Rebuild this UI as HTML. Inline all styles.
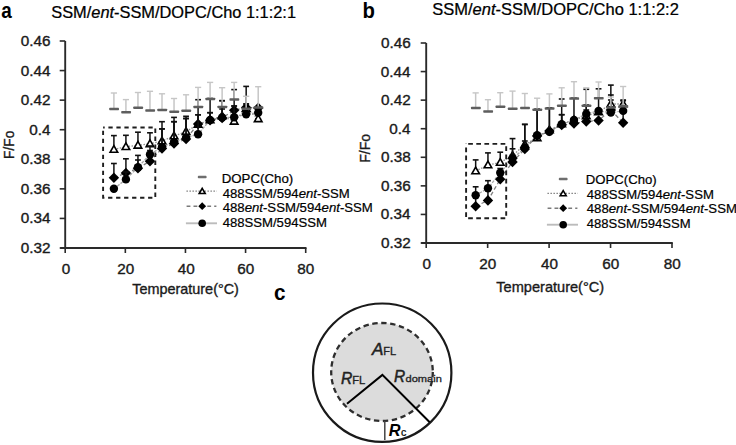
<!DOCTYPE html>
<html><head><meta charset="utf-8"><style>
html,body{margin:0;padding:0;background:#fff;}
body{width:736px;height:445px;overflow:hidden;}
svg{display:block;}
text{font-family:"Liberation Sans", sans-serif;}
</style></head><body>
<svg width="736" height="445" viewBox="0 0 736 445">
<line x1="65.2" y1="41" x2="65.2" y2="248" stroke="#2a2a2a" stroke-width="1.9"/>
<line x1="60.2" y1="248" x2="306.5" y2="248" stroke="#2a2a2a" stroke-width="1.9"/>
<line x1="59.7" y1="248.00" x2="65.2" y2="248.00" stroke="#2a2a2a" stroke-width="1.6"/>
<line x1="59.7" y1="218.43" x2="65.2" y2="218.43" stroke="#2a2a2a" stroke-width="1.6"/>
<line x1="59.7" y1="188.86" x2="65.2" y2="188.86" stroke="#2a2a2a" stroke-width="1.6"/>
<line x1="59.7" y1="159.29" x2="65.2" y2="159.29" stroke="#2a2a2a" stroke-width="1.6"/>
<line x1="59.7" y1="129.71" x2="65.2" y2="129.71" stroke="#2a2a2a" stroke-width="1.6"/>
<line x1="59.7" y1="100.14" x2="65.2" y2="100.14" stroke="#2a2a2a" stroke-width="1.6"/>
<line x1="59.7" y1="70.57" x2="65.2" y2="70.57" stroke="#2a2a2a" stroke-width="1.6"/>
<line x1="59.7" y1="41.00" x2="65.2" y2="41.00" stroke="#2a2a2a" stroke-width="1.6"/>
<line x1="65.20" y1="248" x2="65.20" y2="253" stroke="#2a2a2a" stroke-width="1.6"/>
<line x1="125.33" y1="248" x2="125.33" y2="253" stroke="#2a2a2a" stroke-width="1.6"/>
<line x1="185.45" y1="248" x2="185.45" y2="253" stroke="#2a2a2a" stroke-width="1.6"/>
<line x1="245.57" y1="248" x2="245.57" y2="253" stroke="#2a2a2a" stroke-width="1.6"/>
<line x1="305.70" y1="248" x2="305.70" y2="253" stroke="#2a2a2a" stroke-width="1.6"/>
<polyline points="113.90,188.80 125.92,179.40 137.95,167.20 149.97,154.50 162.00,147.00 174.03,142.00 186.05,137.80 198.08,134.20 210.10,120.00 222.13,117.50 234.15,117.30 246.17,114.20 258.20,112.70" fill="none" stroke="#a8a8a8" stroke-width="1.3" stroke-dasharray="3,1.2"/>
<polyline points="113.90,177.70 125.92,173.00 137.95,168.30 149.97,161.20 162.00,148.50 174.03,143.50 186.05,139.00 198.08,124.00 210.10,120.30 222.13,118.00 234.15,110.20 246.17,107.50 258.20,107.90" fill="none" stroke="#808080" stroke-width="1.3" stroke-dasharray="4,2.5"/>
<polyline points="113.90,149.50 125.92,146.70 137.95,145.30 149.97,143.80 162.00,141.00 174.03,136.00 186.05,131.60 198.08,124.50 210.10,120.00 222.13,116.00 234.15,121.30 246.17,108.50 258.20,118.80" fill="none" stroke="#909090" stroke-width="1.3" stroke-dasharray="1.5,1.5"/>
<line x1="113.90" y1="149.50" x2="113.90" y2="135.60" stroke="#111" stroke-width="1.5"/>
<line x1="111.00" y1="135.60" x2="116.80" y2="135.60" stroke="#111" stroke-width="1.6"/>
<line x1="125.92" y1="146.70" x2="125.92" y2="135.30" stroke="#111" stroke-width="1.5"/>
<line x1="123.02" y1="135.30" x2="128.82" y2="135.30" stroke="#111" stroke-width="1.6"/>
<line x1="137.95" y1="145.30" x2="137.95" y2="132.20" stroke="#111" stroke-width="1.5"/>
<line x1="135.05" y1="132.20" x2="140.85" y2="132.20" stroke="#111" stroke-width="1.6"/>
<line x1="149.97" y1="143.80" x2="149.97" y2="132.80" stroke="#111" stroke-width="1.5"/>
<line x1="147.07" y1="132.80" x2="152.88" y2="132.80" stroke="#111" stroke-width="1.6"/>
<line x1="162.00" y1="141.00" x2="162.00" y2="128.90" stroke="#111" stroke-width="1.5"/>
<line x1="159.10" y1="128.90" x2="164.90" y2="128.90" stroke="#111" stroke-width="1.6"/>
<line x1="174.03" y1="136.00" x2="174.03" y2="121.70" stroke="#111" stroke-width="1.5"/>
<line x1="171.12" y1="121.70" x2="176.93" y2="121.70" stroke="#111" stroke-width="1.6"/>
<line x1="186.05" y1="131.60" x2="186.05" y2="118.50" stroke="#111" stroke-width="1.5"/>
<line x1="183.15" y1="118.50" x2="188.95" y2="118.50" stroke="#111" stroke-width="1.6"/>
<line x1="198.08" y1="124.50" x2="198.08" y2="114.80" stroke="#111" stroke-width="1.5"/>
<line x1="195.18" y1="114.80" x2="200.98" y2="114.80" stroke="#111" stroke-width="1.6"/>
<line x1="210.10" y1="120.00" x2="210.10" y2="112.70" stroke="#111" stroke-width="1.5"/>
<line x1="207.20" y1="112.70" x2="213.00" y2="112.70" stroke="#111" stroke-width="1.6"/>
<line x1="222.13" y1="116.00" x2="222.13" y2="100.70" stroke="#111" stroke-width="1.5"/>
<line x1="219.23" y1="100.70" x2="225.03" y2="100.70" stroke="#111" stroke-width="1.6"/>
<line x1="234.15" y1="121.30" x2="234.15" y2="106.00" stroke="#111" stroke-width="1.5"/>
<line x1="231.25" y1="106.00" x2="237.05" y2="106.00" stroke="#111" stroke-width="1.6"/>
<line x1="246.17" y1="108.50" x2="246.17" y2="104.00" stroke="#111" stroke-width="1.5"/>
<line x1="243.27" y1="104.00" x2="249.07" y2="104.00" stroke="#111" stroke-width="1.6"/>
<line x1="258.20" y1="118.80" x2="258.20" y2="118.80" stroke="#111" stroke-width="1.5"/>
<line x1="255.30" y1="118.80" x2="261.10" y2="118.80" stroke="#111" stroke-width="1.6"/>
<path d="M113.90,145.60 L117.70,152.30 L110.10,152.30 Z" fill="#fff" stroke="#000" stroke-width="1.6" stroke-linejoin="miter"/>
<path d="M125.92,142.80 L129.72,149.50 L122.12,149.50 Z" fill="#fff" stroke="#000" stroke-width="1.6" stroke-linejoin="miter"/>
<path d="M137.95,141.40 L141.75,148.10 L134.15,148.10 Z" fill="#fff" stroke="#000" stroke-width="1.6" stroke-linejoin="miter"/>
<path d="M149.97,139.90 L153.78,146.60 L146.17,146.60 Z" fill="#fff" stroke="#000" stroke-width="1.6" stroke-linejoin="miter"/>
<path d="M162.00,137.10 L165.80,143.80 L158.20,143.80 Z" fill="#fff" stroke="#000" stroke-width="1.6" stroke-linejoin="miter"/>
<path d="M174.03,132.10 L177.83,138.80 L170.22,138.80 Z" fill="#fff" stroke="#000" stroke-width="1.6" stroke-linejoin="miter"/>
<path d="M186.05,127.70 L189.85,134.40 L182.25,134.40 Z" fill="#fff" stroke="#000" stroke-width="1.6" stroke-linejoin="miter"/>
<path d="M198.08,120.60 L201.88,127.30 L194.28,127.30 Z" fill="#fff" stroke="#000" stroke-width="1.6" stroke-linejoin="miter"/>
<path d="M210.10,116.10 L213.90,122.80 L206.30,122.80 Z" fill="#fff" stroke="#000" stroke-width="1.6" stroke-linejoin="miter"/>
<path d="M222.13,112.10 L225.93,118.80 L218.33,118.80 Z" fill="#fff" stroke="#000" stroke-width="1.6" stroke-linejoin="miter"/>
<path d="M234.15,117.40 L237.95,124.10 L230.35,124.10 Z" fill="#fff" stroke="#000" stroke-width="1.6" stroke-linejoin="miter"/>
<path d="M246.17,104.60 L249.97,111.30 L242.37,111.30 Z" fill="#fff" stroke="#000" stroke-width="1.6" stroke-linejoin="miter"/>
<path d="M258.20,114.90 L262.00,121.60 L254.40,121.60 Z" fill="#fff" stroke="#000" stroke-width="1.6" stroke-linejoin="miter"/>
<line x1="113.90" y1="177.70" x2="113.90" y2="163.50" stroke="#111" stroke-width="1.5"/>
<line x1="111.00" y1="163.50" x2="116.80" y2="163.50" stroke="#111" stroke-width="1.6"/>
<line x1="125.92" y1="173.00" x2="125.92" y2="158.80" stroke="#111" stroke-width="1.5"/>
<line x1="123.02" y1="158.80" x2="128.82" y2="158.80" stroke="#111" stroke-width="1.6"/>
<line x1="137.95" y1="168.30" x2="137.95" y2="155.40" stroke="#111" stroke-width="1.5"/>
<line x1="135.05" y1="155.40" x2="140.85" y2="155.40" stroke="#111" stroke-width="1.6"/>
<line x1="149.97" y1="161.20" x2="149.97" y2="150.50" stroke="#111" stroke-width="1.5"/>
<line x1="147.07" y1="150.50" x2="152.88" y2="150.50" stroke="#111" stroke-width="1.6"/>
<line x1="162.00" y1="148.50" x2="162.00" y2="128.90" stroke="#111" stroke-width="1.5"/>
<line x1="159.10" y1="128.90" x2="164.90" y2="128.90" stroke="#111" stroke-width="1.6"/>
<line x1="174.03" y1="143.50" x2="174.03" y2="121.70" stroke="#111" stroke-width="1.5"/>
<line x1="171.12" y1="121.70" x2="176.93" y2="121.70" stroke="#111" stroke-width="1.6"/>
<line x1="186.05" y1="139.00" x2="186.05" y2="118.50" stroke="#111" stroke-width="1.5"/>
<line x1="183.15" y1="118.50" x2="188.95" y2="118.50" stroke="#111" stroke-width="1.6"/>
<line x1="198.08" y1="124.00" x2="198.08" y2="114.80" stroke="#111" stroke-width="1.5"/>
<line x1="195.18" y1="114.80" x2="200.98" y2="114.80" stroke="#111" stroke-width="1.6"/>
<line x1="210.10" y1="120.30" x2="210.10" y2="112.70" stroke="#111" stroke-width="1.5"/>
<line x1="207.20" y1="112.70" x2="213.00" y2="112.70" stroke="#111" stroke-width="1.6"/>
<line x1="222.13" y1="118.00" x2="222.13" y2="109.00" stroke="#111" stroke-width="1.5"/>
<line x1="219.23" y1="109.00" x2="225.03" y2="109.00" stroke="#111" stroke-width="1.6"/>
<line x1="234.15" y1="110.20" x2="234.15" y2="89.60" stroke="#111" stroke-width="1.5"/>
<line x1="231.25" y1="89.60" x2="237.05" y2="89.60" stroke="#111" stroke-width="1.6"/>
<line x1="246.17" y1="107.50" x2="246.17" y2="86.40" stroke="#111" stroke-width="1.5"/>
<line x1="243.27" y1="86.40" x2="249.07" y2="86.40" stroke="#111" stroke-width="1.6"/>
<line x1="258.20" y1="107.90" x2="258.20" y2="107.90" stroke="#111" stroke-width="1.5"/>
<line x1="255.30" y1="107.90" x2="261.10" y2="107.90" stroke="#111" stroke-width="1.6"/>
<path d="M113.90,172.40 L119.10,177.70 L113.90,183.00 L108.70,177.70 Z" fill="#000"/>
<path d="M125.92,167.70 L131.12,173.00 L125.92,178.30 L120.72,173.00 Z" fill="#000"/>
<path d="M137.95,163.00 L143.15,168.30 L137.95,173.60 L132.75,168.30 Z" fill="#000"/>
<path d="M149.97,155.90 L155.17,161.20 L149.97,166.50 L144.78,161.20 Z" fill="#000"/>
<path d="M162.00,143.20 L167.20,148.50 L162.00,153.80 L156.80,148.50 Z" fill="#000"/>
<path d="M174.03,138.20 L179.22,143.50 L174.03,148.80 L168.83,143.50 Z" fill="#000"/>
<path d="M186.05,133.70 L191.25,139.00 L186.05,144.30 L180.85,139.00 Z" fill="#000"/>
<path d="M198.08,118.70 L203.28,124.00 L198.08,129.30 L192.88,124.00 Z" fill="#000"/>
<path d="M210.10,115.00 L215.30,120.30 L210.10,125.60 L204.90,120.30 Z" fill="#000"/>
<path d="M222.13,112.70 L227.33,118.00 L222.13,123.30 L216.93,118.00 Z" fill="#000"/>
<path d="M234.15,104.90 L239.35,110.20 L234.15,115.50 L228.95,110.20 Z" fill="#000"/>
<path d="M246.17,102.20 L251.37,107.50 L246.17,112.80 L240.97,107.50 Z" fill="#000"/>
<path d="M258.20,102.60 L263.40,107.90 L258.20,113.20 L253.00,107.90 Z" fill="#000"/>
<line x1="113.90" y1="188.80" x2="113.90" y2="188.80" stroke="#111" stroke-width="1.5"/>
<line x1="111.00" y1="188.80" x2="116.80" y2="188.80" stroke="#111" stroke-width="1.6"/>
<line x1="125.92" y1="179.40" x2="125.92" y2="172.00" stroke="#111" stroke-width="1.5"/>
<line x1="123.02" y1="172.00" x2="128.82" y2="172.00" stroke="#111" stroke-width="1.6"/>
<line x1="137.95" y1="167.20" x2="137.95" y2="160.00" stroke="#111" stroke-width="1.5"/>
<line x1="135.05" y1="160.00" x2="140.85" y2="160.00" stroke="#111" stroke-width="1.6"/>
<line x1="149.97" y1="154.50" x2="149.97" y2="146.00" stroke="#111" stroke-width="1.5"/>
<line x1="147.07" y1="146.00" x2="152.88" y2="146.00" stroke="#111" stroke-width="1.6"/>
<line x1="162.00" y1="147.00" x2="162.00" y2="121.70" stroke="#111" stroke-width="1.5"/>
<line x1="159.10" y1="121.70" x2="164.90" y2="121.70" stroke="#111" stroke-width="1.6"/>
<line x1="174.03" y1="142.00" x2="174.03" y2="117.40" stroke="#111" stroke-width="1.5"/>
<line x1="171.12" y1="117.40" x2="176.93" y2="117.40" stroke="#111" stroke-width="1.6"/>
<line x1="186.05" y1="137.80" x2="186.05" y2="116.30" stroke="#111" stroke-width="1.5"/>
<line x1="183.15" y1="116.30" x2="188.95" y2="116.30" stroke="#111" stroke-width="1.6"/>
<line x1="198.08" y1="134.20" x2="198.08" y2="99.70" stroke="#111" stroke-width="1.5"/>
<line x1="195.18" y1="99.70" x2="200.98" y2="99.70" stroke="#111" stroke-width="1.6"/>
<line x1="210.10" y1="120.00" x2="210.10" y2="98.50" stroke="#111" stroke-width="1.5"/>
<line x1="207.20" y1="98.50" x2="213.00" y2="98.50" stroke="#111" stroke-width="1.6"/>
<line x1="222.13" y1="117.50" x2="222.13" y2="100.70" stroke="#111" stroke-width="1.5"/>
<line x1="219.23" y1="100.70" x2="225.03" y2="100.70" stroke="#111" stroke-width="1.6"/>
<line x1="234.15" y1="117.30" x2="234.15" y2="106.00" stroke="#111" stroke-width="1.5"/>
<line x1="231.25" y1="106.00" x2="237.05" y2="106.00" stroke="#111" stroke-width="1.6"/>
<line x1="246.17" y1="114.20" x2="246.17" y2="104.00" stroke="#111" stroke-width="1.5"/>
<line x1="243.27" y1="104.00" x2="249.07" y2="104.00" stroke="#111" stroke-width="1.6"/>
<line x1="258.20" y1="112.70" x2="258.20" y2="112.70" stroke="#111" stroke-width="1.5"/>
<line x1="255.30" y1="112.70" x2="261.10" y2="112.70" stroke="#111" stroke-width="1.6"/>
<circle cx="113.90" cy="188.80" r="4.2" fill="#000"/>
<circle cx="125.92" cy="179.40" r="4.2" fill="#000"/>
<circle cx="137.95" cy="167.20" r="4.2" fill="#000"/>
<circle cx="149.97" cy="154.50" r="4.2" fill="#000"/>
<circle cx="162.00" cy="147.00" r="4.2" fill="#000"/>
<circle cx="174.03" cy="142.00" r="4.2" fill="#000"/>
<circle cx="186.05" cy="137.80" r="4.2" fill="#000"/>
<circle cx="198.08" cy="134.20" r="4.2" fill="#000"/>
<circle cx="210.10" cy="120.00" r="4.2" fill="#000"/>
<circle cx="222.13" cy="117.50" r="4.2" fill="#000"/>
<circle cx="234.15" cy="117.30" r="4.2" fill="#000"/>
<circle cx="246.17" cy="114.20" r="4.2" fill="#000"/>
<circle cx="258.20" cy="112.70" r="4.2" fill="#000"/>
<line x1="113.90" y1="108.50" x2="113.90" y2="93.00" stroke="#c6c6c6" stroke-width="1.5"/>
<line x1="110.80" y1="93.00" x2="117.00" y2="93.00" stroke="#c6c6c6" stroke-width="1.4"/>
<line x1="125.92" y1="111.90" x2="125.92" y2="99.60" stroke="#c6c6c6" stroke-width="1.5"/>
<line x1="122.83" y1="99.60" x2="129.03" y2="99.60" stroke="#c6c6c6" stroke-width="1.4"/>
<line x1="137.95" y1="107.40" x2="137.95" y2="92.50" stroke="#c6c6c6" stroke-width="1.5"/>
<line x1="134.85" y1="92.50" x2="141.05" y2="92.50" stroke="#c6c6c6" stroke-width="1.4"/>
<line x1="149.97" y1="110.10" x2="149.97" y2="91.30" stroke="#c6c6c6" stroke-width="1.5"/>
<line x1="146.88" y1="91.30" x2="153.07" y2="91.30" stroke="#c6c6c6" stroke-width="1.4"/>
<line x1="162.00" y1="109.50" x2="162.00" y2="93.80" stroke="#c6c6c6" stroke-width="1.5"/>
<line x1="158.90" y1="93.80" x2="165.10" y2="93.80" stroke="#c6c6c6" stroke-width="1.4"/>
<line x1="174.03" y1="111.40" x2="174.03" y2="98.50" stroke="#c6c6c6" stroke-width="1.5"/>
<line x1="170.93" y1="98.50" x2="177.12" y2="98.50" stroke="#c6c6c6" stroke-width="1.4"/>
<line x1="186.05" y1="110.30" x2="186.05" y2="94.80" stroke="#c6c6c6" stroke-width="1.5"/>
<line x1="182.95" y1="94.80" x2="189.15" y2="94.80" stroke="#c6c6c6" stroke-width="1.4"/>
<line x1="198.08" y1="106.50" x2="198.08" y2="87.40" stroke="#c6c6c6" stroke-width="1.5"/>
<line x1="194.98" y1="87.40" x2="201.18" y2="87.40" stroke="#c6c6c6" stroke-width="1.4"/>
<line x1="210.10" y1="98.50" x2="210.10" y2="82.40" stroke="#c6c6c6" stroke-width="1.5"/>
<line x1="207.00" y1="82.40" x2="213.20" y2="82.40" stroke="#c6c6c6" stroke-width="1.4"/>
<line x1="222.13" y1="106.50" x2="222.13" y2="87.70" stroke="#c6c6c6" stroke-width="1.5"/>
<line x1="219.03" y1="87.70" x2="225.23" y2="87.70" stroke="#c6c6c6" stroke-width="1.4"/>
<line x1="234.15" y1="99.10" x2="234.15" y2="82.40" stroke="#c6c6c6" stroke-width="1.5"/>
<line x1="231.05" y1="82.40" x2="237.25" y2="82.40" stroke="#c6c6c6" stroke-width="1.4"/>
<line x1="246.17" y1="108.40" x2="246.17" y2="96.30" stroke="#c6c6c6" stroke-width="1.5"/>
<line x1="243.07" y1="96.30" x2="249.27" y2="96.30" stroke="#c6c6c6" stroke-width="1.4"/>
<line x1="258.20" y1="107.20" x2="258.20" y2="86.70" stroke="#c6c6c6" stroke-width="1.5"/>
<line x1="255.10" y1="86.70" x2="261.30" y2="86.70" stroke="#c6c6c6" stroke-width="1.4"/>
<rect x="109.20" y="107.65" width="9.8" height="2.5" rx="0.7" fill="#5e5e5e"/>
<rect x="121.22" y="111.05" width="9.8" height="2.5" rx="0.7" fill="#5e5e5e"/>
<rect x="133.25" y="106.55" width="9.8" height="2.5" rx="0.7" fill="#5e5e5e"/>
<rect x="145.28" y="109.25" width="9.8" height="2.5" rx="0.7" fill="#5e5e5e"/>
<rect x="157.30" y="108.65" width="9.8" height="2.5" rx="0.7" fill="#5e5e5e"/>
<rect x="169.33" y="110.55" width="9.8" height="2.5" rx="0.7" fill="#5e5e5e"/>
<rect x="181.35" y="109.45" width="9.8" height="2.5" rx="0.7" fill="#5e5e5e"/>
<rect x="193.38" y="105.65" width="9.8" height="2.5" rx="0.7" fill="#5e5e5e"/>
<rect x="205.40" y="97.65" width="9.8" height="2.5" rx="0.7" fill="#5e5e5e"/>
<rect x="217.43" y="105.65" width="9.8" height="2.5" rx="0.7" fill="#5e5e5e"/>
<rect x="229.45" y="98.25" width="9.8" height="2.5" rx="0.7" fill="#5e5e5e"/>
<rect x="241.47" y="107.55" width="9.8" height="2.5" rx="0.7" fill="#5e5e5e"/>
<rect x="253.50" y="106.35" width="9.8" height="2.5" rx="0.7" fill="#5e5e5e"/>
<rect x="103.1" y="127.5" width="52.20" height="70.20" fill="none" stroke="#1e1e1e" stroke-width="1.9" stroke-dasharray="4.3,3.7" stroke-dashoffset="2.7"/>
<rect x="197.80" y="175.85" width="8.8" height="2.5" rx="0.8" fill="#6e6e6e"/>
<line x1="186.40" y1="191.1" x2="216.70" y2="191.1" stroke="#8a8a8a" stroke-width="1.3" stroke-dasharray="1.6,1.4"/>
<path d="M202.20,188.40 L205.20,193.50 L199.20,193.50 Z" fill="#fff" stroke="#000" stroke-width="1.6"/>
<line x1="186.60" y1="206.2" x2="216.40" y2="206.2" stroke="#7a7a7a" stroke-width="1.5" stroke-dasharray="3.8,3.1"/>
<path d="M202.20,202.30 L206.10,206.20 L202.20,210.10 L198.30,206.20 Z" fill="#000"/>
<line x1="185.90" y1="223.3" x2="217.00" y2="223.3" stroke="#bcbcbc" stroke-width="1.9"/>
<circle cx="202.20" cy="223.30" r="3.8" fill="#000"/>
<line x1="426.2" y1="43" x2="426.2" y2="243.0" stroke="#2a2a2a" stroke-width="1.9"/>
<line x1="421.2" y1="243.0" x2="672.8" y2="243.0" stroke="#2a2a2a" stroke-width="1.9"/>
<line x1="420.7" y1="243.00" x2="426.2" y2="243.00" stroke="#2a2a2a" stroke-width="1.6"/>
<line x1="420.7" y1="214.43" x2="426.2" y2="214.43" stroke="#2a2a2a" stroke-width="1.6"/>
<line x1="420.7" y1="185.86" x2="426.2" y2="185.86" stroke="#2a2a2a" stroke-width="1.6"/>
<line x1="420.7" y1="157.29" x2="426.2" y2="157.29" stroke="#2a2a2a" stroke-width="1.6"/>
<line x1="420.7" y1="128.71" x2="426.2" y2="128.71" stroke="#2a2a2a" stroke-width="1.6"/>
<line x1="420.7" y1="100.14" x2="426.2" y2="100.14" stroke="#2a2a2a" stroke-width="1.6"/>
<line x1="420.7" y1="71.57" x2="426.2" y2="71.57" stroke="#2a2a2a" stroke-width="1.6"/>
<line x1="420.7" y1="43.00" x2="426.2" y2="43.00" stroke="#2a2a2a" stroke-width="1.6"/>
<line x1="426.20" y1="243.0" x2="426.20" y2="248.0" stroke="#2a2a2a" stroke-width="1.6"/>
<line x1="487.65" y1="243.0" x2="487.65" y2="248.0" stroke="#2a2a2a" stroke-width="1.6"/>
<line x1="549.10" y1="243.0" x2="549.10" y2="248.0" stroke="#2a2a2a" stroke-width="1.6"/>
<line x1="610.55" y1="243.0" x2="610.55" y2="248.0" stroke="#2a2a2a" stroke-width="1.6"/>
<line x1="672.00" y1="243.0" x2="672.00" y2="248.0" stroke="#2a2a2a" stroke-width="1.6"/>
<polyline points="475.66,195.30 487.95,188.30 500.24,172.70 512.53,158.50 524.82,148.00 537.11,135.30 549.40,131.90 561.69,124.20 573.98,120.00 586.27,114.00 598.56,110.90 610.85,112.60 623.14,110.90" fill="none" stroke="#a8a8a8" stroke-width="1.3" stroke-dasharray="3,1.2"/>
<polyline points="475.66,206.30 487.95,200.40 500.24,179.20 512.53,162.00 524.82,149.00 537.11,136.00 549.40,131.00 561.69,125.00 573.98,123.50 586.27,121.50 598.56,120.50 610.85,110.00 623.14,122.80" fill="none" stroke="#808080" stroke-width="1.3" stroke-dasharray="4,2.5"/>
<polyline points="475.66,171.00 487.95,165.00 500.24,162.50 512.53,155.50 524.82,144.50 537.11,138.00 549.40,130.00 561.69,124.00 573.98,120.00 586.27,116.00 598.56,112.00 610.85,104.00 623.14,104.00" fill="none" stroke="#909090" stroke-width="1.3" stroke-dasharray="1.5,1.5"/>
<line x1="475.66" y1="171.00" x2="475.66" y2="159.90" stroke="#111" stroke-width="1.5"/>
<line x1="472.76" y1="159.90" x2="478.56" y2="159.90" stroke="#111" stroke-width="1.6"/>
<line x1="487.95" y1="165.00" x2="487.95" y2="152.90" stroke="#111" stroke-width="1.5"/>
<line x1="485.05" y1="152.90" x2="490.85" y2="152.90" stroke="#111" stroke-width="1.6"/>
<line x1="500.24" y1="162.50" x2="500.24" y2="152.20" stroke="#111" stroke-width="1.5"/>
<line x1="497.34" y1="152.20" x2="503.14" y2="152.20" stroke="#111" stroke-width="1.6"/>
<line x1="512.53" y1="155.50" x2="512.53" y2="148.80" stroke="#111" stroke-width="1.5"/>
<line x1="509.63" y1="148.80" x2="515.43" y2="148.80" stroke="#111" stroke-width="1.6"/>
<line x1="524.82" y1="144.50" x2="524.82" y2="124.40" stroke="#111" stroke-width="1.5"/>
<line x1="521.92" y1="124.40" x2="527.72" y2="124.40" stroke="#111" stroke-width="1.6"/>
<line x1="537.11" y1="138.00" x2="537.11" y2="109.40" stroke="#111" stroke-width="1.5"/>
<line x1="534.21" y1="109.40" x2="540.01" y2="109.40" stroke="#111" stroke-width="1.6"/>
<line x1="549.40" y1="130.00" x2="549.40" y2="108.00" stroke="#111" stroke-width="1.5"/>
<line x1="546.50" y1="108.00" x2="552.30" y2="108.00" stroke="#111" stroke-width="1.6"/>
<line x1="561.69" y1="124.00" x2="561.69" y2="114.70" stroke="#111" stroke-width="1.5"/>
<line x1="558.79" y1="114.70" x2="564.59" y2="114.70" stroke="#111" stroke-width="1.6"/>
<line x1="573.98" y1="120.00" x2="573.98" y2="120.00" stroke="#111" stroke-width="1.5"/>
<line x1="571.08" y1="120.00" x2="576.88" y2="120.00" stroke="#111" stroke-width="1.6"/>
<line x1="586.27" y1="116.00" x2="586.27" y2="105.00" stroke="#111" stroke-width="1.5"/>
<line x1="583.37" y1="105.00" x2="589.17" y2="105.00" stroke="#111" stroke-width="1.6"/>
<line x1="598.56" y1="112.00" x2="598.56" y2="112.00" stroke="#111" stroke-width="1.5"/>
<line x1="595.66" y1="112.00" x2="601.46" y2="112.00" stroke="#111" stroke-width="1.6"/>
<line x1="610.85" y1="104.00" x2="610.85" y2="85.10" stroke="#111" stroke-width="1.5"/>
<line x1="607.95" y1="85.10" x2="613.75" y2="85.10" stroke="#111" stroke-width="1.6"/>
<line x1="623.14" y1="104.00" x2="623.14" y2="100.80" stroke="#111" stroke-width="1.5"/>
<line x1="620.24" y1="100.80" x2="626.04" y2="100.80" stroke="#111" stroke-width="1.6"/>
<path d="M475.66,167.10 L479.46,173.80 L471.86,173.80 Z" fill="#fff" stroke="#000" stroke-width="1.6" stroke-linejoin="miter"/>
<path d="M487.95,161.10 L491.75,167.80 L484.15,167.80 Z" fill="#fff" stroke="#000" stroke-width="1.6" stroke-linejoin="miter"/>
<path d="M500.24,158.60 L504.04,165.30 L496.44,165.30 Z" fill="#fff" stroke="#000" stroke-width="1.6" stroke-linejoin="miter"/>
<path d="M512.53,151.60 L516.33,158.30 L508.73,158.30 Z" fill="#fff" stroke="#000" stroke-width="1.6" stroke-linejoin="miter"/>
<path d="M524.82,140.60 L528.62,147.30 L521.02,147.30 Z" fill="#fff" stroke="#000" stroke-width="1.6" stroke-linejoin="miter"/>
<path d="M537.11,134.10 L540.91,140.80 L533.31,140.80 Z" fill="#fff" stroke="#000" stroke-width="1.6" stroke-linejoin="miter"/>
<path d="M549.40,126.10 L553.20,132.80 L545.60,132.80 Z" fill="#fff" stroke="#000" stroke-width="1.6" stroke-linejoin="miter"/>
<path d="M561.69,120.10 L565.49,126.80 L557.89,126.80 Z" fill="#fff" stroke="#000" stroke-width="1.6" stroke-linejoin="miter"/>
<path d="M573.98,116.10 L577.78,122.80 L570.18,122.80 Z" fill="#fff" stroke="#000" stroke-width="1.6" stroke-linejoin="miter"/>
<path d="M586.27,112.10 L590.07,118.80 L582.47,118.80 Z" fill="#fff" stroke="#000" stroke-width="1.6" stroke-linejoin="miter"/>
<path d="M598.56,108.10 L602.36,114.80 L594.76,114.80 Z" fill="#fff" stroke="#000" stroke-width="1.6" stroke-linejoin="miter"/>
<path d="M610.85,100.10 L614.65,106.80 L607.05,106.80 Z" fill="#fff" stroke="#000" stroke-width="1.6" stroke-linejoin="miter"/>
<path d="M623.14,100.10 L626.94,106.80 L619.34,106.80 Z" fill="#fff" stroke="#000" stroke-width="1.6" stroke-linejoin="miter"/>
<line x1="475.66" y1="206.30" x2="475.66" y2="196.00" stroke="#111" stroke-width="1.5"/>
<line x1="472.76" y1="196.00" x2="478.56" y2="196.00" stroke="#111" stroke-width="1.6"/>
<line x1="487.95" y1="200.40" x2="487.95" y2="190.00" stroke="#111" stroke-width="1.5"/>
<line x1="485.05" y1="190.00" x2="490.85" y2="190.00" stroke="#111" stroke-width="1.6"/>
<line x1="500.24" y1="179.20" x2="500.24" y2="175.00" stroke="#111" stroke-width="1.5"/>
<line x1="497.34" y1="175.00" x2="503.14" y2="175.00" stroke="#111" stroke-width="1.6"/>
<line x1="512.53" y1="162.00" x2="512.53" y2="155.00" stroke="#111" stroke-width="1.5"/>
<line x1="509.63" y1="155.00" x2="515.43" y2="155.00" stroke="#111" stroke-width="1.6"/>
<line x1="524.82" y1="149.00" x2="524.82" y2="141.00" stroke="#111" stroke-width="1.5"/>
<line x1="521.92" y1="141.00" x2="527.72" y2="141.00" stroke="#111" stroke-width="1.6"/>
<line x1="537.11" y1="136.00" x2="537.11" y2="136.00" stroke="#111" stroke-width="1.5"/>
<line x1="534.21" y1="136.00" x2="540.01" y2="136.00" stroke="#111" stroke-width="1.6"/>
<line x1="549.40" y1="131.00" x2="549.40" y2="131.00" stroke="#111" stroke-width="1.5"/>
<line x1="546.50" y1="131.00" x2="552.30" y2="131.00" stroke="#111" stroke-width="1.6"/>
<line x1="561.69" y1="125.00" x2="561.69" y2="114.70" stroke="#111" stroke-width="1.5"/>
<line x1="558.79" y1="114.70" x2="564.59" y2="114.70" stroke="#111" stroke-width="1.6"/>
<line x1="573.98" y1="123.50" x2="573.98" y2="123.50" stroke="#111" stroke-width="1.5"/>
<line x1="571.08" y1="123.50" x2="576.88" y2="123.50" stroke="#111" stroke-width="1.6"/>
<line x1="586.27" y1="121.50" x2="586.27" y2="110.00" stroke="#111" stroke-width="1.5"/>
<line x1="583.37" y1="110.00" x2="589.17" y2="110.00" stroke="#111" stroke-width="1.6"/>
<line x1="598.56" y1="120.50" x2="598.56" y2="120.50" stroke="#111" stroke-width="1.5"/>
<line x1="595.66" y1="120.50" x2="601.46" y2="120.50" stroke="#111" stroke-width="1.6"/>
<line x1="610.85" y1="110.00" x2="610.85" y2="100.00" stroke="#111" stroke-width="1.5"/>
<line x1="607.95" y1="100.00" x2="613.75" y2="100.00" stroke="#111" stroke-width="1.6"/>
<line x1="623.14" y1="122.80" x2="623.14" y2="110.00" stroke="#111" stroke-width="1.5"/>
<line x1="620.24" y1="110.00" x2="626.04" y2="110.00" stroke="#111" stroke-width="1.6"/>
<path d="M475.66,201.00 L480.86,206.30 L475.66,211.60 L470.46,206.30 Z" fill="#000"/>
<path d="M487.95,195.10 L493.15,200.40 L487.95,205.70 L482.75,200.40 Z" fill="#000"/>
<path d="M500.24,173.90 L505.44,179.20 L500.24,184.50 L495.04,179.20 Z" fill="#000"/>
<path d="M512.53,156.70 L517.73,162.00 L512.53,167.30 L507.33,162.00 Z" fill="#000"/>
<path d="M524.82,143.70 L530.02,149.00 L524.82,154.30 L519.62,149.00 Z" fill="#000"/>
<path d="M537.11,130.70 L542.31,136.00 L537.11,141.30 L531.91,136.00 Z" fill="#000"/>
<path d="M549.40,125.70 L554.60,131.00 L549.40,136.30 L544.20,131.00 Z" fill="#000"/>
<path d="M561.69,119.70 L566.89,125.00 L561.69,130.30 L556.49,125.00 Z" fill="#000"/>
<path d="M573.98,118.20 L579.18,123.50 L573.98,128.80 L568.78,123.50 Z" fill="#000"/>
<path d="M586.27,116.20 L591.47,121.50 L586.27,126.80 L581.07,121.50 Z" fill="#000"/>
<path d="M598.56,115.20 L603.76,120.50 L598.56,125.80 L593.36,120.50 Z" fill="#000"/>
<path d="M610.85,104.70 L616.05,110.00 L610.85,115.30 L605.65,110.00 Z" fill="#000"/>
<path d="M623.14,117.50 L628.34,122.80 L623.14,128.10 L617.94,122.80 Z" fill="#000"/>
<line x1="475.66" y1="195.30" x2="475.66" y2="186.80" stroke="#111" stroke-width="1.5"/>
<line x1="472.76" y1="186.80" x2="478.56" y2="186.80" stroke="#111" stroke-width="1.6"/>
<line x1="487.95" y1="188.30" x2="487.95" y2="180.70" stroke="#111" stroke-width="1.5"/>
<line x1="485.05" y1="180.70" x2="490.85" y2="180.70" stroke="#111" stroke-width="1.6"/>
<line x1="500.24" y1="172.70" x2="500.24" y2="168.50" stroke="#111" stroke-width="1.5"/>
<line x1="497.34" y1="168.50" x2="503.14" y2="168.50" stroke="#111" stroke-width="1.6"/>
<line x1="512.53" y1="158.50" x2="512.53" y2="138.60" stroke="#111" stroke-width="1.5"/>
<line x1="509.63" y1="138.60" x2="515.43" y2="138.60" stroke="#111" stroke-width="1.6"/>
<line x1="524.82" y1="148.00" x2="524.82" y2="124.40" stroke="#111" stroke-width="1.5"/>
<line x1="521.92" y1="124.40" x2="527.72" y2="124.40" stroke="#111" stroke-width="1.6"/>
<line x1="537.11" y1="135.30" x2="537.11" y2="109.40" stroke="#111" stroke-width="1.5"/>
<line x1="534.21" y1="109.40" x2="540.01" y2="109.40" stroke="#111" stroke-width="1.6"/>
<line x1="549.40" y1="131.90" x2="549.40" y2="108.00" stroke="#111" stroke-width="1.5"/>
<line x1="546.50" y1="108.00" x2="552.30" y2="108.00" stroke="#111" stroke-width="1.6"/>
<line x1="561.69" y1="124.20" x2="561.69" y2="99.00" stroke="#111" stroke-width="1.5"/>
<line x1="558.79" y1="99.00" x2="564.59" y2="99.00" stroke="#111" stroke-width="1.6"/>
<line x1="573.98" y1="120.00" x2="573.98" y2="98.20" stroke="#111" stroke-width="1.5"/>
<line x1="571.08" y1="98.20" x2="576.88" y2="98.20" stroke="#111" stroke-width="1.6"/>
<line x1="586.27" y1="114.00" x2="586.27" y2="89.30" stroke="#111" stroke-width="1.5"/>
<line x1="583.37" y1="89.30" x2="589.17" y2="89.30" stroke="#111" stroke-width="1.6"/>
<line x1="598.56" y1="110.90" x2="598.56" y2="88.80" stroke="#111" stroke-width="1.5"/>
<line x1="595.66" y1="88.80" x2="601.46" y2="88.80" stroke="#111" stroke-width="1.6"/>
<line x1="610.85" y1="112.60" x2="610.85" y2="95.00" stroke="#111" stroke-width="1.5"/>
<line x1="607.95" y1="95.00" x2="613.75" y2="95.00" stroke="#111" stroke-width="1.6"/>
<line x1="623.14" y1="110.90" x2="623.14" y2="100.00" stroke="#111" stroke-width="1.5"/>
<line x1="620.24" y1="100.00" x2="626.04" y2="100.00" stroke="#111" stroke-width="1.6"/>
<circle cx="475.66" cy="195.30" r="4.2" fill="#000"/>
<circle cx="487.95" cy="188.30" r="4.2" fill="#000"/>
<circle cx="500.24" cy="172.70" r="4.2" fill="#000"/>
<circle cx="512.53" cy="158.50" r="4.2" fill="#000"/>
<circle cx="524.82" cy="148.00" r="4.2" fill="#000"/>
<circle cx="537.11" cy="135.30" r="4.2" fill="#000"/>
<circle cx="549.40" cy="131.90" r="4.2" fill="#000"/>
<circle cx="561.69" cy="124.20" r="4.2" fill="#000"/>
<circle cx="573.98" cy="120.00" r="4.2" fill="#000"/>
<circle cx="586.27" cy="114.00" r="4.2" fill="#000"/>
<circle cx="598.56" cy="110.90" r="4.2" fill="#000"/>
<circle cx="610.85" cy="112.60" r="4.2" fill="#000"/>
<circle cx="623.14" cy="110.90" r="4.2" fill="#000"/>
<line x1="475.66" y1="107.60" x2="475.66" y2="92.90" stroke="#c6c6c6" stroke-width="1.5"/>
<line x1="472.56" y1="92.90" x2="478.76" y2="92.90" stroke="#c6c6c6" stroke-width="1.4"/>
<line x1="487.95" y1="111.00" x2="487.95" y2="99.70" stroke="#c6c6c6" stroke-width="1.5"/>
<line x1="484.85" y1="99.70" x2="491.05" y2="99.70" stroke="#c6c6c6" stroke-width="1.4"/>
<line x1="500.24" y1="106.40" x2="500.24" y2="92.70" stroke="#c6c6c6" stroke-width="1.5"/>
<line x1="497.14" y1="92.70" x2="503.34" y2="92.70" stroke="#c6c6c6" stroke-width="1.4"/>
<line x1="512.53" y1="108.30" x2="512.53" y2="91.10" stroke="#c6c6c6" stroke-width="1.5"/>
<line x1="509.43" y1="91.10" x2="515.63" y2="91.10" stroke="#c6c6c6" stroke-width="1.4"/>
<line x1="524.82" y1="107.60" x2="524.82" y2="93.50" stroke="#c6c6c6" stroke-width="1.5"/>
<line x1="521.72" y1="93.50" x2="527.92" y2="93.50" stroke="#c6c6c6" stroke-width="1.4"/>
<line x1="537.11" y1="109.40" x2="537.11" y2="98.20" stroke="#c6c6c6" stroke-width="1.5"/>
<line x1="534.01" y1="98.20" x2="540.21" y2="98.20" stroke="#c6c6c6" stroke-width="1.4"/>
<line x1="549.40" y1="108.00" x2="549.40" y2="93.90" stroke="#c6c6c6" stroke-width="1.5"/>
<line x1="546.30" y1="93.90" x2="552.50" y2="93.90" stroke="#c6c6c6" stroke-width="1.4"/>
<line x1="561.69" y1="105.30" x2="561.69" y2="87.80" stroke="#c6c6c6" stroke-width="1.5"/>
<line x1="558.59" y1="87.80" x2="564.79" y2="87.80" stroke="#c6c6c6" stroke-width="1.4"/>
<line x1="573.98" y1="98.20" x2="573.98" y2="81.70" stroke="#c6c6c6" stroke-width="1.5"/>
<line x1="570.88" y1="81.70" x2="577.08" y2="81.70" stroke="#c6c6c6" stroke-width="1.4"/>
<line x1="586.27" y1="105.30" x2="586.27" y2="87.80" stroke="#c6c6c6" stroke-width="1.5"/>
<line x1="583.17" y1="87.80" x2="589.37" y2="87.80" stroke="#c6c6c6" stroke-width="1.4"/>
<line x1="598.56" y1="97.90" x2="598.56" y2="82.00" stroke="#c6c6c6" stroke-width="1.5"/>
<line x1="595.46" y1="82.00" x2="601.66" y2="82.00" stroke="#c6c6c6" stroke-width="1.4"/>
<line x1="610.85" y1="107.00" x2="610.85" y2="97.00" stroke="#c6c6c6" stroke-width="1.5"/>
<line x1="607.75" y1="97.00" x2="613.95" y2="97.00" stroke="#c6c6c6" stroke-width="1.4"/>
<line x1="623.14" y1="105.80" x2="623.14" y2="86.50" stroke="#c6c6c6" stroke-width="1.5"/>
<line x1="620.04" y1="86.50" x2="626.24" y2="86.50" stroke="#c6c6c6" stroke-width="1.4"/>
<rect x="470.96" y="106.75" width="9.8" height="2.5" rx="0.7" fill="#5e5e5e"/>
<rect x="483.25" y="110.15" width="9.8" height="2.5" rx="0.7" fill="#5e5e5e"/>
<rect x="495.54" y="105.55" width="9.8" height="2.5" rx="0.7" fill="#5e5e5e"/>
<rect x="507.83" y="107.45" width="9.8" height="2.5" rx="0.7" fill="#5e5e5e"/>
<rect x="520.12" y="106.75" width="9.8" height="2.5" rx="0.7" fill="#5e5e5e"/>
<rect x="532.41" y="108.55" width="9.8" height="2.5" rx="0.7" fill="#5e5e5e"/>
<rect x="544.70" y="107.15" width="9.8" height="2.5" rx="0.7" fill="#5e5e5e"/>
<rect x="556.99" y="104.45" width="9.8" height="2.5" rx="0.7" fill="#5e5e5e"/>
<rect x="569.28" y="97.35" width="9.8" height="2.5" rx="0.7" fill="#5e5e5e"/>
<rect x="581.57" y="104.45" width="9.8" height="2.5" rx="0.7" fill="#5e5e5e"/>
<rect x="593.86" y="97.05" width="9.8" height="2.5" rx="0.7" fill="#5e5e5e"/>
<rect x="606.15" y="106.15" width="9.8" height="2.5" rx="0.7" fill="#5e5e5e"/>
<rect x="618.44" y="104.95" width="9.8" height="2.5" rx="0.7" fill="#5e5e5e"/>
<rect x="466.1" y="143.85" width="40.10" height="74.45" fill="none" stroke="#1e1e1e" stroke-width="1.9" stroke-dasharray="4.7,3.4" stroke-dashoffset="6.0"/>
<rect x="558.80" y="177.85" width="8.8" height="2.5" rx="0.8" fill="#6e6e6e"/>
<line x1="547.40" y1="193.3" x2="577.70" y2="193.3" stroke="#8a8a8a" stroke-width="1.3" stroke-dasharray="1.6,1.4"/>
<path d="M563.20,190.60 L566.20,195.70 L560.20,195.70 Z" fill="#fff" stroke="#000" stroke-width="1.6"/>
<line x1="547.60" y1="208.2" x2="577.40" y2="208.2" stroke="#7a7a7a" stroke-width="1.5" stroke-dasharray="3.8,3.1"/>
<path d="M563.20,204.30 L567.10,208.20 L563.20,212.10 L559.30,208.20 Z" fill="#000"/>
<line x1="546.90" y1="224.7" x2="578.00" y2="224.7" stroke="#bcbcbc" stroke-width="1.9"/>
<circle cx="563.20" cy="224.70" r="3.8" fill="#000"/>
<ellipse cx="382" cy="372" rx="50.8" ry="49" fill="#dcdcdc" stroke="#2e2e2e" stroke-width="2.3" stroke-dasharray="5.4,3.6"/>
<circle cx="382.2" cy="372.7" r="69.2" fill="none" stroke="#1a1a1a" stroke-width="2.2"/>
<polyline points="347,403.7 382.4,374.9 429.7,422.2" fill="none" stroke="#000" stroke-width="2"/>
<line x1="384.8" y1="421" x2="384.8" y2="440" stroke="#444" stroke-width="1.5"/>
<text transform="matrix(0.8580,0,0,1,1.32,17.80)" font-size="22" font-weight="bold" font-style="normal" fill="#000">a</text>
<text transform="matrix(0.9434,0,0,1,362.46,17.80)" font-size="21.5" font-weight="bold" font-style="normal" fill="#000">b</text>
<text transform="matrix(0.9394,0,0,1,274.02,299.60)" font-size="22" font-weight="bold" font-style="normal" fill="#000">c</text>
<text transform="matrix(1.0373,0,0,1,51.27,18.00)" font-size="15.8" font-weight="normal" font-style="normal" fill="#000" stroke="#000" stroke-width="0.25">SSM/<tspan font-style="italic">ent</tspan>-SSM/DOPC/Cho 1:1:2:1</text>
<text transform="matrix(1.0449,0,0,1,432.27,15.10)" font-size="15.8" font-weight="normal" font-style="normal" fill="#000" stroke="#000" stroke-width="0.25">SSM/<tspan font-style="italic">ent</tspan>-SSM/DOPC/Cho 1:1:2:2</text>
<text transform="matrix(1.0925,0,0,1,20.83,253.00)" font-size="14" font-weight="normal" font-style="normal" fill="#1a1a1a" stroke="#1a1a1a" stroke-width="0.35">0.32</text>
<text transform="matrix(1.0925,0,0,1,20.65,223.43)" font-size="14" font-weight="normal" font-style="normal" fill="#1a1a1a" stroke="#1a1a1a" stroke-width="0.35">0.34</text>
<text transform="matrix(1.0925,0,0,1,20.81,193.86)" font-size="14" font-weight="normal" font-style="normal" fill="#1a1a1a" stroke="#1a1a1a" stroke-width="0.35">0.36</text>
<text transform="matrix(1.0925,0,0,1,20.82,164.29)" font-size="14" font-weight="normal" font-style="normal" fill="#1a1a1a" stroke="#1a1a1a" stroke-width="0.35">0.38</text>
<text transform="matrix(1.0925,0,0,1,29.20,134.71)" font-size="14" font-weight="normal" font-style="normal" fill="#1a1a1a" stroke="#1a1a1a" stroke-width="0.35">0.4</text>
<text transform="matrix(1.0925,0,0,1,20.83,105.14)" font-size="14" font-weight="normal" font-style="normal" fill="#1a1a1a" stroke="#1a1a1a" stroke-width="0.35">0.42</text>
<text transform="matrix(1.0925,0,0,1,20.65,75.57)" font-size="14" font-weight="normal" font-style="normal" fill="#1a1a1a" stroke="#1a1a1a" stroke-width="0.35">0.44</text>
<text transform="matrix(1.0925,0,0,1,20.81,46.00)" font-size="14" font-weight="normal" font-style="normal" fill="#1a1a1a" stroke="#1a1a1a" stroke-width="0.35">0.46</text>
<text transform="matrix(1.0925,0,0,1,61.84,274.10)" font-size="14" font-weight="normal" font-style="normal" fill="#1a1a1a" stroke="#1a1a1a" stroke-width="0.35">0</text>
<text transform="matrix(1.0925,0,0,1,117.28,274.10)" font-size="14" font-weight="normal" font-style="normal" fill="#1a1a1a" stroke="#1a1a1a" stroke-width="0.35">20</text>
<text transform="matrix(1.0925,0,0,1,177.64,274.10)" font-size="14" font-weight="normal" font-style="normal" fill="#1a1a1a" stroke="#1a1a1a" stroke-width="0.35">40</text>
<text transform="matrix(1.0925,0,0,1,237.30,274.10)" font-size="14" font-weight="normal" font-style="normal" fill="#1a1a1a" stroke="#1a1a1a" stroke-width="0.35">60</text>
<text transform="matrix(1.0925,0,0,1,297.36,274.10)" font-size="14" font-weight="normal" font-style="normal" fill="#1a1a1a" stroke="#1a1a1a" stroke-width="0.35">80</text>
<text transform="matrix(1.0925,0,0,1,380.93,247.80)" font-size="14" font-weight="normal" font-style="normal" fill="#1a1a1a" stroke="#1a1a1a" stroke-width="0.35">0.32</text>
<text transform="matrix(1.0925,0,0,1,380.75,219.26)" font-size="14" font-weight="normal" font-style="normal" fill="#1a1a1a" stroke="#1a1a1a" stroke-width="0.35">0.34</text>
<text transform="matrix(1.0925,0,0,1,380.91,190.71)" font-size="14" font-weight="normal" font-style="normal" fill="#1a1a1a" stroke="#1a1a1a" stroke-width="0.35">0.36</text>
<text transform="matrix(1.0925,0,0,1,380.92,162.17)" font-size="14" font-weight="normal" font-style="normal" fill="#1a1a1a" stroke="#1a1a1a" stroke-width="0.35">0.38</text>
<text transform="matrix(1.0925,0,0,1,389.30,133.63)" font-size="14" font-weight="normal" font-style="normal" fill="#1a1a1a" stroke="#1a1a1a" stroke-width="0.35">0.4</text>
<text transform="matrix(1.0925,0,0,1,380.93,105.09)" font-size="14" font-weight="normal" font-style="normal" fill="#1a1a1a" stroke="#1a1a1a" stroke-width="0.35">0.42</text>
<text transform="matrix(1.0925,0,0,1,380.75,76.54)" font-size="14" font-weight="normal" font-style="normal" fill="#1a1a1a" stroke="#1a1a1a" stroke-width="0.35">0.44</text>
<text transform="matrix(1.0925,0,0,1,380.91,48.00)" font-size="14" font-weight="normal" font-style="normal" fill="#1a1a1a" stroke="#1a1a1a" stroke-width="0.35">0.46</text>
<text transform="matrix(1.0925,0,0,1,422.44,269.30)" font-size="14" font-weight="normal" font-style="normal" fill="#1a1a1a" stroke="#1a1a1a" stroke-width="0.35">0</text>
<text transform="matrix(1.0925,0,0,1,479.30,269.30)" font-size="14" font-weight="normal" font-style="normal" fill="#1a1a1a" stroke="#1a1a1a" stroke-width="0.35">20</text>
<text transform="matrix(1.0925,0,0,1,541.09,269.30)" font-size="14" font-weight="normal" font-style="normal" fill="#1a1a1a" stroke="#1a1a1a" stroke-width="0.35">40</text>
<text transform="matrix(1.0925,0,0,1,602.17,269.30)" font-size="14" font-weight="normal" font-style="normal" fill="#1a1a1a" stroke="#1a1a1a" stroke-width="0.35">60</text>
<text transform="matrix(1.0925,0,0,1,663.66,269.30)" font-size="14" font-weight="normal" font-style="normal" fill="#1a1a1a" stroke="#1a1a1a" stroke-width="0.35">80</text>
<text transform="matrix(1.0153,0,0,1,132.26,293.70)" font-size="14.2" font-weight="normal" font-style="normal" fill="#1a1a1a" stroke="#1a1a1a" stroke-width="0.35">Temperature(°C)</text>
<text transform="matrix(1.0273,0,0,1,496.31,292.00)" font-size="14.2" font-weight="normal" font-style="normal" fill="#1a1a1a" stroke="#1a1a1a" stroke-width="0.35">Temperature(°C)</text>
<text transform="translate(13.60,158.10) rotate(-90) matrix(0.9691,0,0,1,-0.85,0)" font-size="14.2" font-weight="normal" font-style="normal" fill="#1a1a1a" stroke="#1a1a1a" stroke-width="0.35">F/Fo</text>
<text transform="translate(370.00,161.90) rotate(-90) matrix(0.9833,0,0,1,-0.86,0)" font-size="14.2" font-weight="normal" font-style="normal" fill="#1a1a1a" stroke="#1a1a1a" stroke-width="0.35">F/Fo</text>
<text transform="matrix(1.0965,0,0,1,221.71,182.90)" font-size="12.1" font-weight="normal" font-style="normal" fill="#000" stroke="#000" stroke-width="0.2">DOPC(Cho)</text>
<text transform="matrix(1.0869,0,0,1,222.67,197.80)" font-size="12.1" font-weight="normal" font-style="normal" fill="#000" stroke="#000" stroke-width="0.2">488SSM/594<tspan font-style="italic">ent</tspan>-SSM</text>
<text transform="matrix(1.0902,0,0,1,222.67,212.20)" font-size="12.1" font-weight="normal" font-style="normal" fill="#000" stroke="#000" stroke-width="0.2">488<tspan font-style="italic">ent</tspan>-SSM/594<tspan font-style="italic">ent</tspan>-SSM</text>
<text transform="matrix(1.0851,0,0,1,222.67,227.30)" font-size="12.1" font-weight="normal" font-style="normal" fill="#000" stroke="#000" stroke-width="0.2">488SSM/594SSM</text>
<text transform="matrix(1.0887,0,0,1,585.81,183.90)" font-size="12.1" font-weight="normal" font-style="normal" fill="#000" stroke="#000" stroke-width="0.2">DOPC(Cho)</text>
<text transform="matrix(1.0861,0,0,1,586.77,198.80)" font-size="12.1" font-weight="normal" font-style="normal" fill="#000" stroke="#000" stroke-width="0.2">488SSM/594<tspan font-style="italic">ent</tspan>-SSM</text>
<text transform="matrix(1.0902,0,0,1,586.77,212.60)" font-size="12.1" font-weight="normal" font-style="normal" fill="#000" stroke="#000" stroke-width="0.2">488<tspan font-style="italic">ent</tspan>-SSM/594<tspan font-style="italic">ent</tspan>-SSM</text>
<text transform="matrix(1.0799,0,0,1,586.77,227.90)" font-size="12.1" font-weight="normal" font-style="normal" fill="#000" stroke="#000" stroke-width="0.2">488SSM/594SSM</text>
<text transform="matrix(0.9985,0,0,1,371.96,354.60)" font-size="17.2" font-weight="normal" font-style="italic" fill="#222" stroke="#222" stroke-width="0.5">A</text>
<text transform="matrix(1.1056,0,0,1,383.26,354.60)" font-size="10" font-weight="normal" font-style="normal" fill="#222" stroke="#222" stroke-width="0.3">FL</text>
<text transform="matrix(0.9447,0,0,1,340.91,383.80)" font-size="16.6" font-weight="normal" font-style="italic" fill="#222" stroke="#222" stroke-width="0.5">R</text>
<text transform="matrix(1.1241,0,0,1,352.24,383.80)" font-size="10" font-weight="normal" font-style="normal" fill="#222" stroke="#222" stroke-width="0.3">FL</text>
<text transform="matrix(0.9481,0,0,1,394.11,381.80)" font-size="16.3" font-weight="normal" font-style="italic" fill="#222" stroke="#222" stroke-width="0.5">R</text>
<text transform="matrix(1.1324,0,0,1,405.52,381.80)" font-size="9.8" font-weight="normal" font-style="normal" fill="#222" stroke="#222" stroke-width="0.3">domain</text>
<text transform="matrix(1.0150,0,0,1,388.81,435.60)" font-size="16.1" font-weight="bold" font-style="italic" fill="#000">R</text>
<text transform="matrix(0.9662,0,0,1,401.01,436.20)" font-size="11" font-weight="normal" font-style="normal" fill="#000" stroke="#000" stroke-width="0.25">c</text>
</svg>
</body></html>
